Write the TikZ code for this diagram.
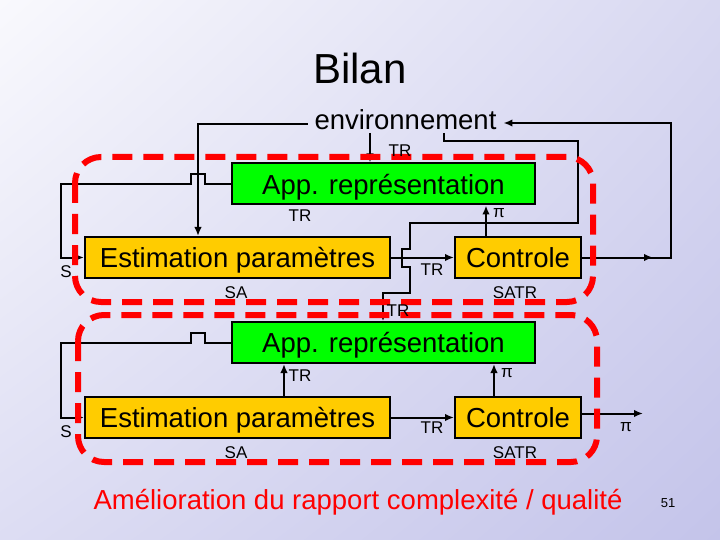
\documentclass[tikz,border=0pt]{standalone}
\usepackage{fontspec}
\setmainfont{Liberation Sans}
\usepackage{xcolor}
\usepackage{tikz}
\usetikzlibrary{arrows.meta,shadings}
\definecolor{boxgreen}{HTML}{00FF00}
\definecolor{boxyellow}{HTML}{FFCC00}
\definecolor{loopred}{HTML}{FF0000}
\definecolor{bgul}{HTML}{F9F9FD}
\definecolor{bgur}{HTML}{D8D8F1}
\definecolor{bgll}{HTML}{DDDDF3}
\definecolor{bglr}{HTML}{C4C4EA}

\begin{document}
\begin{tikzpicture}[x=1pt, y=-1pt, line width=2pt,
    appbox/.style={draw, fill=boxgreen, minimum width=303pt, minimum height=41pt,
      inner sep=0pt, text depth=0pt, font=\fontsize{27.5}{30}\selectfont},
    estbox/.style={draw, fill=boxyellow, minimum height=41pt, inner sep=0pt,
      text depth=0pt, font=\fontsize{27.5}{30}\selectfont},
    lbl/.style={inner sep=0pt, font=\fontsize{17}{19}\selectfont},
    arr/.style={-{Latex[length=9pt,width=7.5pt]}},
    thin wire/.style={line width=1.3pt},
    loop/.style={draw=loopred, line width=6pt, dash pattern=on 20pt off 11pt,
      rounded corners=26pt}]

  % -- slide background, light at the top left, lavender to the bottom right
  \shade[upper left=bgul, upper right=bgur, lower left=bgll, lower right=bglr]
    (0,0) rectangle (720,540);
  \useasboundingbox (0,0) rectangle (720,540);

  \node[font=\fontsize{42}{46}\selectfont] (title) at (360,68) {Bilan};
  \node[anchor=base, inner xsep=6pt, inner ysep=2pt,
    font=\fontsize{27.5}{30}\selectfont] (env) at (405.5,129.5) {environnement};

  % -- first loop: the blocks
  \node[appbox] (app1) at (383.5,184) {App. représentation};
  \node[estbox, minimum width=305pt] (est1) at (237.5,257.5) {Estimation paramètres};
  \node[estbox, minimum width=126pt] (ctl1) at (518,257.5) {Controle};

  % -- second loop: the same blocks again
  \node[appbox] (app2) at (383.5,342.5) {App. représentation};
  \node[estbox, minimum width=305pt] (est2) at (237.5,417.5) {Estimation paramètres};
  \node[estbox, minimum width=126pt] (ctl2) at (518,417.5) {Controle};

  % -- first loop: wires (the small hops are where two wires cross)
  \coordinate (envL) at (198,124);
  \coordinate (envR) at (671,123);
  \coordinate (fb1) at (61,184);
  \draw[arr] ([xshift=-35.5pt]env.south) -- ([xshift=-13.5pt]app1.north);
  \draw[arr] (env.west |- envL) -- (envL) -- (envL |- est1.north);
  \draw[arr] (app1.west) -- ++(-26,0) -- ++(0,-10) -- ++(-14,0) -- ++(0,10)
    -- (fb1) |- (est1.west);
  \draw[arr] (est1.east) -- (ctl1.west);
  \draw[arr] ([xshift=-32pt]ctl1.north) -- ([xshift=102.5pt]app1.south);
  \draw[arr] (ctl1.east) -| (envR) -- (envR -| env.east);
  \draw[arr] (ctl1.east) -- ++(71,0);
  % environnement feeds the second loop, round the first one
  \draw[arr, thin wire] ([xshift=38.5pt]env.south) |- (578,141) |- (410,223)
    -- (410,249) -- ++(-8,0) -- ++(0,18) -- ++(8,0) |- (383,293)
    -- ([xshift=-0.5pt]app2.north);

  % -- second loop: wires
  \coordinate (fb2) at (61,342.5);
  \draw[arr] (app2.west) -- ++(-26,0) -- ++(0,-10) -- ++(-14,0) -- ++(0,10)
    -- (fb2) |- (est2.west);
  \draw[arr] ([xshift=46.5pt]est2.north) -- ([xshift=-99.5pt]app2.south);
  \draw[arr] (est2.east) -- (ctl2.west);
  \draw[arr] ([xshift=-24pt]ctl2.north) -- ([xshift=110.5pt]app2.south);
  \draw[arr] ([yshift=4pt]ctl2.east) -- ++(61,0);

  % -- the two loops, red dashed
  \draw[loop] (75,157) rectangle (593,302);
  \draw[loop] (78,315) rectangle (597,462);

  % -- signal labels
  \node[lbl] (trA) at (400,151) {TR};
  \node[lbl] (trB) at (300,216) {TR};
  \node[lbl] (piA) at (499,213) {π};
  \node[lbl] (trC) at (432,270) {TR};
  \node[lbl] (saA) at (236,293) {SA};
  \node[lbl] (satrA) at (515,293) {SATR};
  \node[lbl] (trD) at (398,311) {TR};
  \node[lbl] (sA) at (66,272) {S};
  \node[lbl] (trE) at (300,376) {TR};
  \node[lbl] (piB) at (507,373) {π};
  \node[lbl] (trF) at (432,428) {TR};
  \node[lbl] (piC) at (626,427) {π};
  \node[lbl] (saB) at (236,453) {SA};
  \node[lbl] (satrB) at (515,453) {SATR};
  \node[lbl] (sB) at (66,432) {S};

  \node[text=loopred, font=\fontsize{27.5}{30}\selectfont] (note) at (358,502)
    {Amélioration du rapport complexité / qualité};
  \node[font=\fontsize{13}{15}\selectfont] (pg) at (668,503) {51};

\end{tikzpicture}
\end{document}
